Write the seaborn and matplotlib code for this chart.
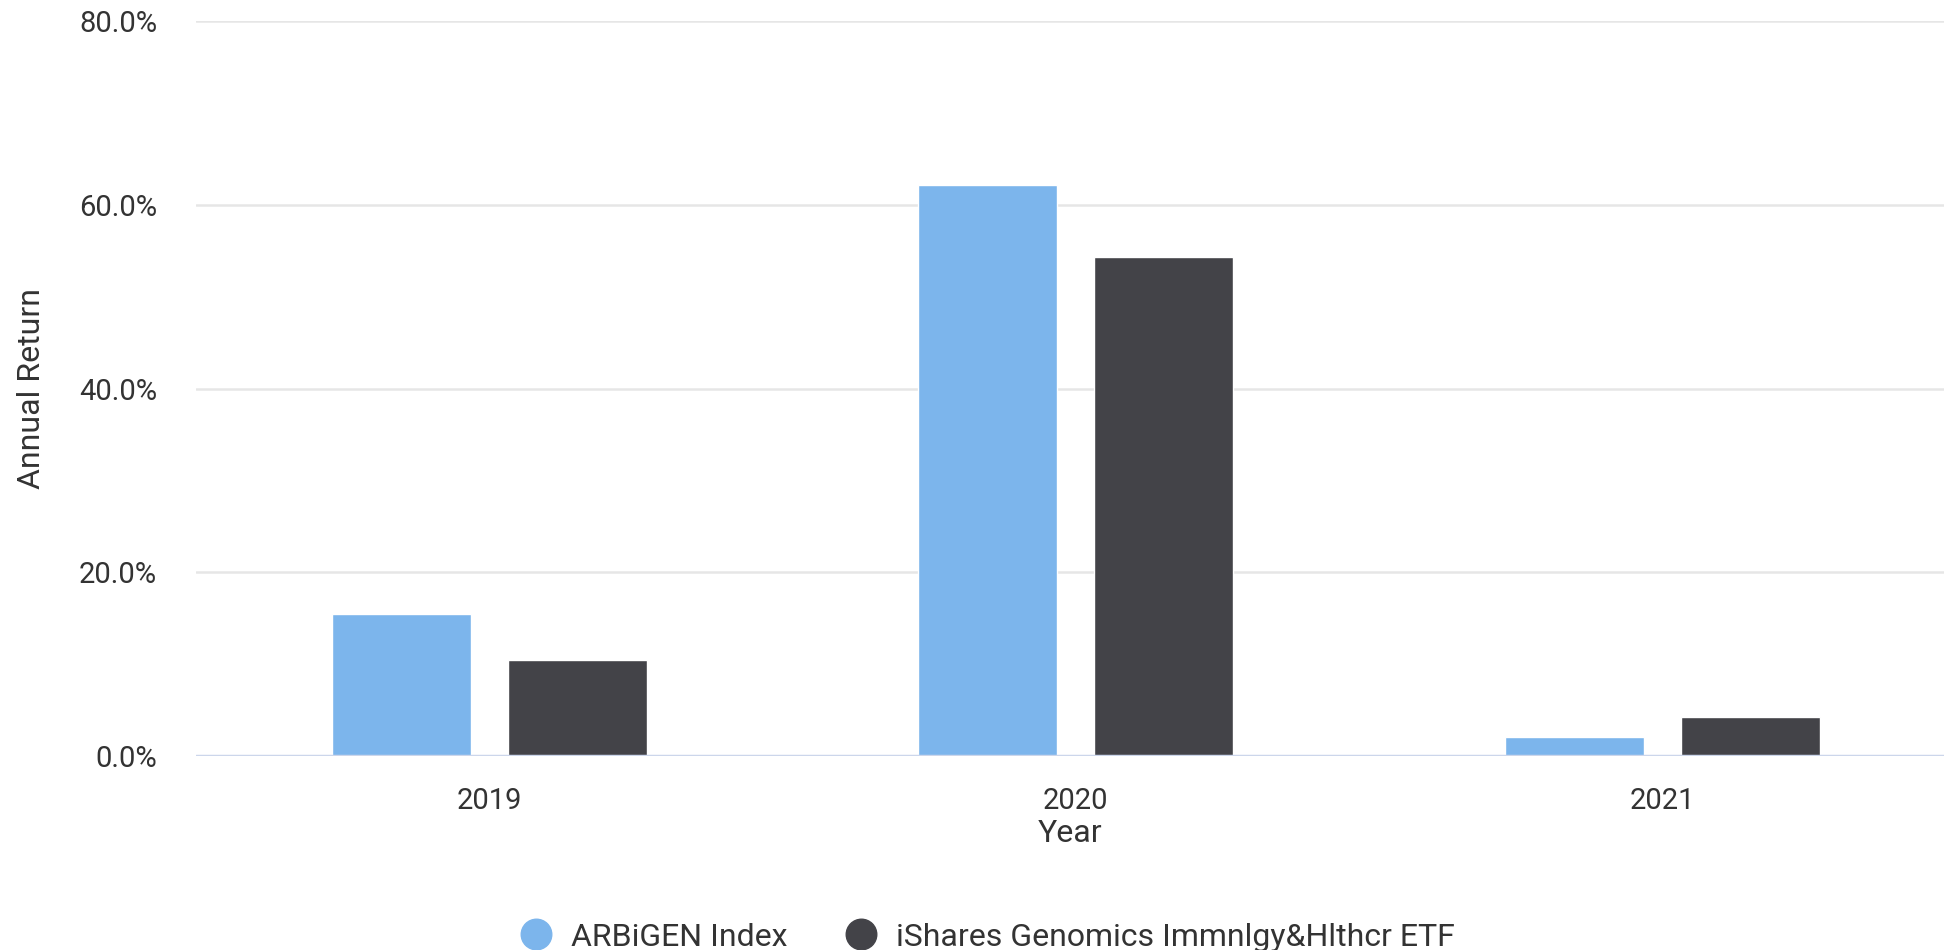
import pandas as pd
import seaborn as sns
import matplotlib
matplotlib.use("Agg")
import matplotlib.pyplot as plt
from matplotlib.lines import Line2D
from matplotlib.ticker import FuncFormatter

# data
years = ["2019", "2020", "2021"]
arbigen = [15.5, 62.2, 2.1]
ishares = [10.5, 54.3, 4.2]
series_names = ["ARBiGEN Index", "iShares Genomics Immnlgy&Hlthcr ETF"]
colors = ["#7cb5ec", "#434348"]

df = pd.DataFrame({
    "Year": years * 2,
    "Return": arbigen + ishares,
    "Series": [series_names[0]] * 3 + [series_names[1]] * 3,
})

sns.set_style("white")
plt.rcParams["font.family"] = ["Roboto", "DejaVu Sans"]
txt = "#333333"

fig = plt.figure(figsize=(19.44, 9.5), dpi=100)
ax = fig.add_axes([196 / 1944, 194 / 950, 1748 / 1944, 735 / 950])

sns.barplot(data=df, x="Year", y="Return", hue="Series", palette=colors,
            width=0.6, gap=0.21, saturation=1, ax=ax, legend=False, zorder=3)

ax.set_ylim(0, 80)
ax.set_xlim(-0.5, 2.48)
ax.set_yticks([0, 20, 40, 60, 80])
ax.yaxis.set_major_formatter(FuncFormatter(lambda v, p: f"{v:.1f}%"))
ax.grid(axis="y", color="#e6e6e6", lw=1.8, zorder=0)
ax.axhline(0, color="#ccd6eb", lw=2.5, zorder=4)
for s in ax.spines.values():
    s.set_visible(False)
ax.tick_params(axis="y", length=0, pad=28, labelsize=21, labelcolor=txt)
ax.tick_params(axis="x", length=0, pad=22, labelsize=21, labelcolor=txt)
ax.set_xlabel("Year", fontsize=23, color=txt, labelpad=3)
ax.set_ylabel("Annual Return", fontsize=23, color=txt, labelpad=24)

handles = [Line2D([], [], marker="o", ls="", markersize=22, color=c) for c in colors]
fig.legend(handles, series_names, loc="center", ncol=2, frameon=False,
           fontsize=23, labelcolor=txt, bbox_to_anchor=(0.504, 13 / 950),
           handletextpad=0.1, columnspacing=1.3)

fig.savefig("out.png", dpi=100)
